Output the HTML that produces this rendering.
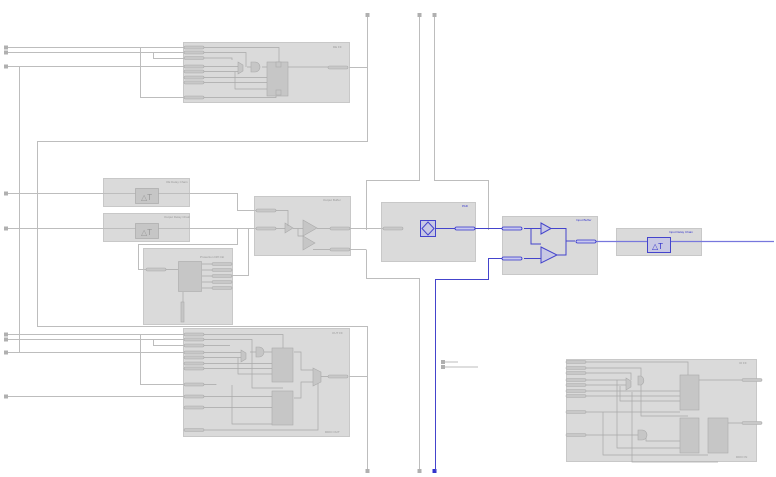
<!DOCTYPE html>
<html><head><meta charset="utf-8"><style>
html,body{margin:0;padding:0;background:#fff;}
svg{display:block;font-family:"Liberation Sans",sans-serif;}
</style></head><body>
<svg width="776" height="477" viewBox="0 0 776 477" xmlns="http://www.w3.org/2000/svg">
<defs>
<g id="pl"><rect x="0" y="-1.5" width="20" height="3" rx="1.5" fill="#c8c8c8" stroke="#aaa" stroke-width="0.6"/></g>
<g id="pb"><rect x="0" y="-1.5" width="20" height="3" rx="1.5" fill="#c8c8ee" stroke="#3333cc" stroke-width="0.8"/></g>
</defs>
<g fill="none" stroke="#c4c4c4" stroke-width="1">
<!-- boxes -->
<rect x="183.5" y="42.5" width="166" height="60" fill="#dadada" stroke="#c8c8c8"/>
<rect x="103.5" y="178.5" width="86" height="28" fill="#dadada" stroke="#c8c8c8"/>
<rect x="103.5" y="213.5" width="86" height="28" fill="#dadada" stroke="#c8c8c8"/>
<rect x="254.5" y="196.5" width="96" height="59" fill="#dadada" stroke="#c8c8c8"/>
<rect x="381.5" y="202.5" width="94" height="59" fill="#dadada" stroke="#c8c8c8"/>
<rect x="502.5" y="216.5" width="95" height="58" fill="#dadada" stroke="#c8c8c8"/>
<rect x="616.5" y="228.5" width="85" height="27" fill="#dadada" stroke="#c8c8c8"/>
<rect x="143.5" y="248.5" width="89" height="76" fill="#dadada" stroke="#c8c8c8"/>
<rect x="183.5" y="328.5" width="166" height="108" fill="#dadada" stroke="#c8c8c8"/>
<rect x="566.5" y="359.5" width="190" height="102" fill="#dadada" stroke="#c8c8c8"/>
</g>
<g fill="none" stroke="#bdbdbd" stroke-width="1">
<!-- top/bottom verticals -->
<path d="M367.5 15V141.5H37.5V326.5H367.5V471"/>
<path d="M419.5 15V180.5H366.5V230"/>
<path d="M434.5 15V180.5H488.5V230"/>
<path d="M366.5 250V278.5H419.5V471"/>
<path d="M349 67.5H367.5"/>
<path d="M349 376.5H367.5"/>
<!-- left inputs -->
<path d="M6 47.5H184M6 52.5H184M6 66.5H184"/>
<path d="M19.5 66.5V352.5"/>
<path d="M140.5 47.5V97.5H184"/>
<path d="M153.5 52.5V58.5H184"/>
<path d="M6 193.5H237.5V210.5H256"/>
<path d="M6 228.5H256"/>
<path d="M237.5 228.5V244.5H138.5V269.5H146"/>
<path d="M248.5 228.5V275.5H232"/>
<path d="M6 334.5H184M6 339.5H184M6 352.5H184M6 396.5H184"/>
<path d="M140.5 334.5V384.5H184"/>
<path d="M153.5 339.5V345.5H184"/>
<path d="M350 228.5H383"/>
<path d="M350 249.5H366.5"/>
<path d="M443 362H458M443 367H478"/>
</g>
<g fill="#b0b0b0"><rect x="4" y="45.5" width="4" height="4"/><rect x="4" y="50.5" width="4" height="4"/><rect x="4" y="64.5" width="4" height="4"/><rect x="4" y="191.5" width="4" height="4"/><rect x="4" y="226.5" width="4" height="4"/><rect x="4" y="332.5" width="4" height="4"/><rect x="4" y="337.5" width="4" height="4"/><rect x="4" y="350.5" width="4" height="4"/><rect x="4" y="394.5" width="4" height="4"/>
<rect x="365.5" y="13" width="4" height="4"/><rect x="417.5" y="13" width="4" height="4"/><rect x="432.5" y="13" width="4" height="4"/>
<rect x="365.5" y="469" width="4" height="4"/><rect x="417.5" y="469" width="4" height="4"/><rect x="441" y="360" width="4" height="4"/><rect x="441" y="365" width="4" height="4"/></g>
<rect x="432.5" y="469" width="4" height="4" fill="#3333cc"/>
<!-- DE FF internals -->
<g stroke="#a8a8a8" stroke-width="0.7" fill="none">
<path d="M204 47.5H279V62M204 52.5H246V67M204 58H232V60M204 66.5H240M204 71.5H240M204 77.5H268M204 82.5H268M235 72V89H268M247 67H258M262 67H268M204 97.5H276V93M281 67H330"/>
</g>
<g fill="#c6c6c6" stroke="#aaa" stroke-width="0.6"><rect x="267" y="62" width="21" height="34"/><rect x="276" y="62" width="5" height="5"/><rect x="276" y="90" width="5" height="5"/><path d="M238 62l5 3v6l-5 3z"/><path d="M251 62h4a5 5 0 0 1 0 10h-4z"/></g>
<use href="#pl" x="184" y="47.5"/><use href="#pl" x="184" y="52.5"/><use href="#pl" x="184" y="58"/><use href="#pl" x="184" y="66.5"/><use href="#pl" x="184" y="71.5"/><use href="#pl" x="184" y="77.5"/><use href="#pl" x="184" y="82.5"/><use href="#pl" x="184" y="97.5"/><use href="#pl" x="328" y="67.5"/>
<!-- delay chains -->
<g fill="#c6c6c6" stroke="#aaa" stroke-width="0.7"><rect x="135.5" y="188.5" width="23" height="15"/><rect x="135.5" y="223.5" width="23" height="15"/></g>
<text x="141" y="200" font-size="8" fill="#999">△T</text><text x="141" y="235" font-size="8" fill="#999">△T</text>
<!-- Output buffer -->
<g fill="#c6c6c6" stroke="#aaa" stroke-width="0.6"><path d="M285 223l8 5-8 5z"/><path d="M303 220l14 8-14 8z"/><path d="M303 236l12 7-12 7z"/></g>
<g stroke="#a8a8a8" stroke-width="0.7" fill="none"><path d="M276 210.5H288V226M276 228.5H285M293 228.5H303M298 228.5V236H303M317 228.5H330M313 249.5H330"/></g>
<use href="#pl" x="256" y="210.5"/><use href="#pl" x="256" y="228.5"/><use href="#pl" x="330" y="228.5"/><use href="#pl" x="330" y="249.5"/>
<!-- protection -->
<rect x="178.5" y="261.5" width="23" height="30" fill="#c6c6c6" stroke="#aaa" stroke-width="0.6"/>
<rect x="181" y="302" width="3" height="20" fill="#c6c6c6" stroke="#aaa" stroke-width="0.6"/>
<g stroke="#a8a8a8" stroke-width="0.7"><path d="M166 269.5H178M202 264H212M202 270H212M202 276H212M202 282H212M202 288H212M183 292V302"/></g>
<use href="#pl" x="146" y="269.5"/><use href="#pl" x="212" y="264"/><use href="#pl" x="212" y="270"/><use href="#pl" x="212" y="276"/><use href="#pl" x="212" y="282"/><use href="#pl" x="212" y="288"/>
<!-- Out FF internals -->
<g stroke="#a8a8a8" stroke-width="0.7" fill="none">
<path d="M204 334.5H283V348M204 339.5H252V388H283M204 345.5H230M204 352.5H243M204 357.5H243M204 363.5H272M204 368.5H272M238 358V374H272M204 384.5H216V385M204 396.5H272M204 407.5H272M232 385V424H290V405M204 430H318V380M294 352H301V370H313M294 398H301V382H313M321 376.5H330M250 352H258M264 352H272"/>
</g>
<g fill="#c6c6c6" stroke="#aaa" stroke-width="0.6"><rect x="272" y="348" width="21" height="34"/><rect x="272" y="391" width="21" height="34"/><path d="M313 368l8 4v10l-8 4z"/><path d="M241 350l5 3v6l-5 3z"/><path d="M256 347h3a5 5 0 0 1 0 10h-3z"/></g>
<use href="#pl" x="184" y="334.5"/><use href="#pl" x="184" y="339.5"/><use href="#pl" x="184" y="345.5"/><use href="#pl" x="184" y="352.5"/><use href="#pl" x="184" y="357.5"/><use href="#pl" x="184" y="363.5"/><use href="#pl" x="184" y="368.5"/><use href="#pl" x="184" y="384.5"/><use href="#pl" x="184" y="396.5"/><use href="#pl" x="184" y="407.5"/><use href="#pl" x="184" y="430"/><use href="#pl" x="328" y="376.5"/>
<!-- Bottom right block -->
<g stroke="#a8a8a8" stroke-width="0.7" fill="none">
<path d="M586 362H688V375M586 368H641V416H688M586 373H631V380M586 380H626M586 385H626M586 391H680M586 396H680M620 386V401H680M586 412H680M586 435H640M603 412V455H708M617 380V448H680M632 392V462H718M646 436V441H680M699 380H742M727 423H742"/>
</g>
<g fill="#c6c6c6" stroke="#aaa" stroke-width="0.6"><rect x="680" y="375" width="19" height="35"/><rect x="680" y="418" width="19" height="35"/><rect x="708" y="418" width="20" height="35"/><path d="M626 378l5 3v6l-5 3z"/><path d="M638 376h3a5 5 0 0 1 0 9h-3z"/><path d="M638 430h4a5 5 0 0 1 0 10h-4z"/></g>
<use href="#pl" x="566" y="362"/><use href="#pl" x="566" y="368"/><use href="#pl" x="566" y="373"/><use href="#pl" x="566" y="380"/><use href="#pl" x="566" y="385"/><use href="#pl" x="566" y="391"/><use href="#pl" x="566" y="396"/><use href="#pl" x="566" y="412"/><use href="#pl" x="566" y="435"/><use href="#pl" x="742" y="380"/><use href="#pl" x="742" y="423"/>
<!-- PAD & blue path -->
<use href="#pl" x="383" y="228.5"/>
<g stroke="#4444cc" stroke-width="1" fill="none">
<rect x="420.5" y="220.5" width="15" height="16" fill="#c8c8e4"/>
<path d="M428 222l6 6.5-6 6.5-6-6.5z"/>
<path d="M436 228.5H455M475 228.5H504M524 228.5H541M531 228.5V244H541M550 228.5H566V241H575M557 255H566V241M435.5 471V279.5H488.5V258.5H504M524 258.5H541"/>
<path d="M541 223l10 5.5-10 5.5z" fill="#c8c8e4"/><path d="M541 247l16 8-16 8z" fill="#c8c8e4"/>
<rect x="647.5" y="237.5" width="23" height="15" fill="#c8c8e4"/>
</g>
<path d="M595 241.5H647M671 241.5H774" stroke="#7777dd" stroke-width="1.2"/>
<text x="652" y="249" font-size="8" fill="#3333cc">△T</text>
<use href="#pb" x="455" y="228.5"/><use href="#pb" x="502" y="228.5"/><use href="#pb" x="502" y="258.5"/><use href="#pb" x="576" y="241.5"/>
<!-- tiny labels -->
<g font-size="3" fill="#999"><text x="333" y="48">DE FF</text><text x="166" y="183">OE Delay Chain</text><text x="164" y="218">Output Delay Chain</text><text x="323" y="201">Output Buffer</text><text x="200" y="258">Protection Diff Ckt</text><text x="332" y="334">OUT FF</text><text x="325" y="433">DDIO OUT</text><text x="739" y="364">IO FF</text><text x="736" y="458">DDIO IN</text></g>
<g font-size="3" fill="#3333cc"><text x="462" y="207">PAD</text><text x="576" y="221">Input Buffer</text><text x="669" y="233">Input Delay Chain</text></g>
</svg>
</body></html>
